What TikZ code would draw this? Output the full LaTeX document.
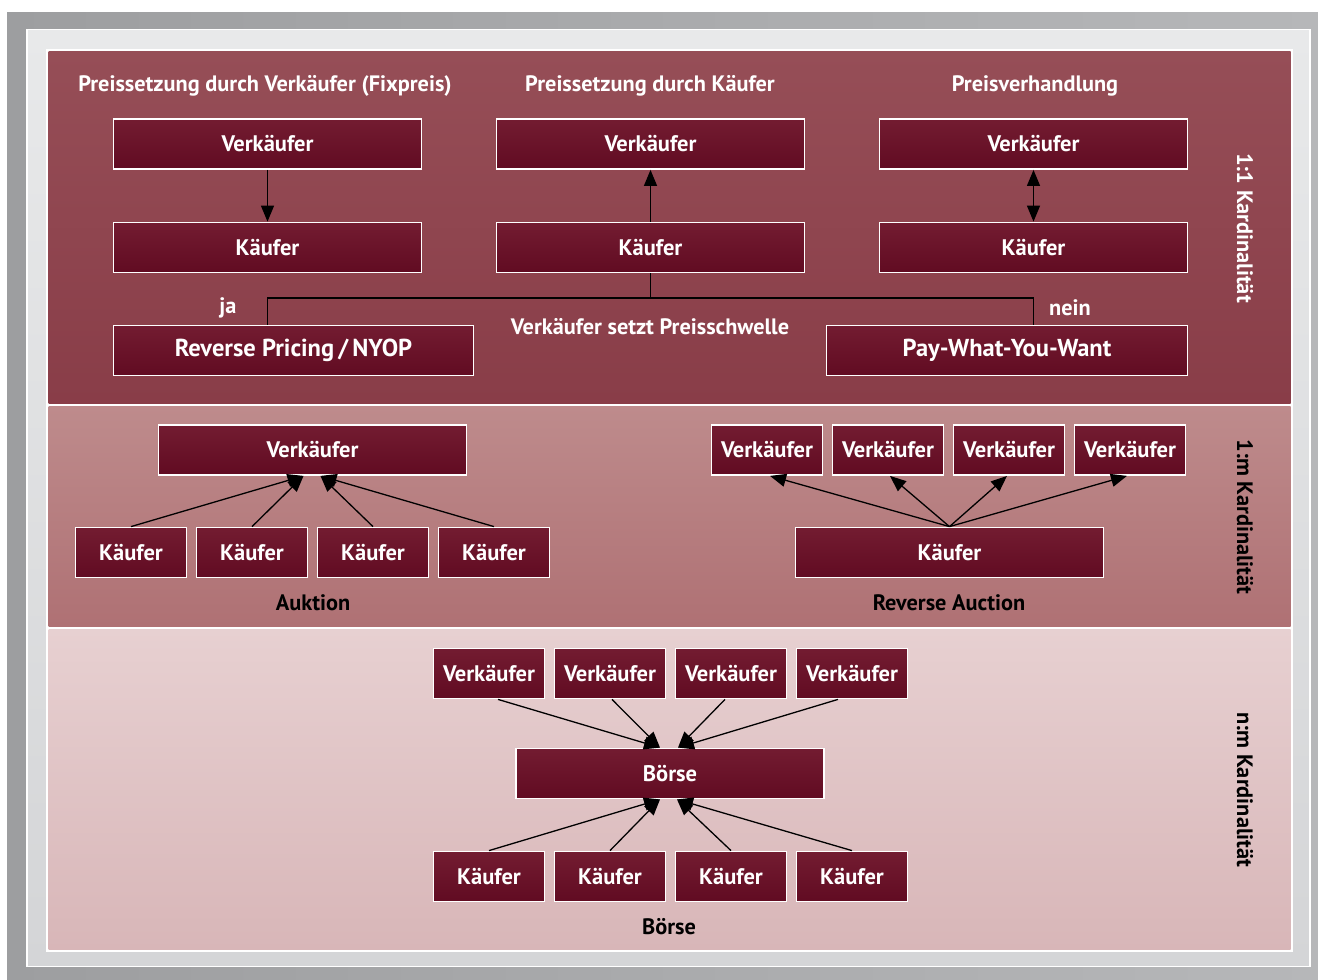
\documentclass[tikz,border=0pt]{standalone}
\usepackage{fontspec}
\setmainfont{PT Sans}
\usetikzlibrary{arrows.meta,calc}
\definecolor{grayL}{HTML}{9D9EA0}
\definecolor{grayR}{HTML}{B6B7B9}
\definecolor{frameT}{HTML}{E8E9EA}
\definecolor{frameB}{HTML}{D4D5D7}
\definecolor{p1T}{HTML}{964E57}
\definecolor{p1B}{HTML}{893D48}
\definecolor{p2T}{HTML}{BE8B8C}
\definecolor{p2B}{HTML}{AF7174}
\definecolor{p3T}{HTML}{E7D0D1}
\definecolor{p3B}{HTML}{D8B6B8}
\definecolor{boxT}{HTML}{731C31}
\definecolor{boxB}{HTML}{610B22}
\tikzset{
  box/.style={draw=white, line width=1.8pt, top color=boxT, bottom color=boxB,
    text=white, font=\bfseries\fontsize{22.5}{26}\selectfont, minimum height=50pt,
    inner sep=0pt, anchor=center},
  wide/.style={box, minimum width=308pt},
  small/.style={box, minimum width=111pt},
  bigbox/.style={box, font=\bfseries\fontsize{24.5}{28}\selectfont},
  wlabel/.style={text=white, font=\bfseries\fontsize{22.3}{26}\selectfont, inner sep=0pt},
  blabel/.style={text=black, font=\bfseries\fontsize{22.3}{26}\selectfont, inner sep=0pt},
  arr/.style={line width=1.3pt, -{Triangle[length=16pt,width=13pt]}},
  darr/.style={line width=1.3pt, {Triangle[length=16pt,width=13pt]}-{Triangle[length=16pt,width=13pt]}},
  conn/.style={line width=1.8pt}
}
\begin{document}
\begin{tikzpicture}[x=1pt,y=-1pt]
\useasboundingbox (0,0) rectangle (1318,980);
% background
\fill[white] (0,0) rectangle (1318,980);
\shade[left color=grayL, right color=grayR] (7,12) rectangle (1318,980);
\draw[white, line width=1.5pt, top color=frameT, bottom color=frameB] (27,29.5) rectangle (1310,966.5);
\fill[white] (46,49) rectangle (1293,952);
\shade[top color=p1T, bottom color=p1B] (48.5,51.5) rectangle (1290.5,403);
\shade[top color=p2T, bottom color=p2B] (48.5,406.5) rectangle (1290.5,626);
\shade[top color=p3T, bottom color=p3B] (48.5,629.5) rectangle (1290.5,949.5);

% ---------- panel 1 ----------
\node[wlabel] (t1) at (265,86) {Preissetzung durch Verkäufer (Fixpreis)};
\node[wlabel] (t2) at (650,86) {Preissetzung durch Käufer};
\node[wlabel] (t3) at (1035,86) {Preisverhandlung};
\node[wide] (v1) at (267.5,144) {Verkäufer};
\node[wide] (k1) at (267.5,247.5) {Käufer};
\node[wide] (v2) at (650.5,144) {Verkäufer};
\node[wide] (k2) at (650.5,247.5) {Käufer};
\node[wide] (v3) at (1033.5,144) {Verkäufer};
\node[wide] (k3) at (1033.5,247.5) {Käufer};
\draw[arr] (v1) -- (k1);
\draw[arr] (k2) -- (v2);
\draw[darr] (v3) -- (k3);
\node[bigbox, minimum width=360pt] (rp) at (293.5,350.5) {Reverse Pricing\,/\,NYOP};
\node[bigbox, minimum width=361pt] (pw) at (1007,350.5) {Pay-What-You-Want};
\coordinate (j) at (650.5,298);
\draw[conn] (k2.south) -- (j);
\draw[conn] (k1.south |- rp.north) |- (j) -| (k3.south |- pw.north);
\node[wlabel] (ja) at (228,308) {ja};
\node[wlabel] (nein) at (1070,308) {nein};
\node[wlabel] (ps) at (650,327) {Verkäufer setzt Preisschwelle};
\node[wlabel, rotate=-90] (c1) at (1245,228) {1:1 Kardinalität};

% ---------- panel 2 ----------
\node[wide] (av) at (312.5,450) {Verkäufer};
\node[small] (ak1) at (131,552.5) {Käufer};
\node[small] (ak2) at (252,552.5) {Käufer};
\node[small] (ak3) at (373,552.5) {Käufer};
\node[small] (ak4) at (494,552.5) {Käufer};
\draw[arr] (ak1.north) -- ([xshift=-9pt]av.south);
\draw[arr] (ak2.north) -- ([xshift=-9pt]av.south);
\draw[arr] (ak3.north) -- ([xshift=8pt]av.south);
\draw[arr] (ak4.north) -- ([xshift=8pt]av.south);
\node[blabel] (auk) at (313,603) {Auktion};

\node[small] (rv1) at (767,450) {Verkäufer};
\node[small] (rv2) at (888,450) {Verkäufer};
\node[small] (rv3) at (1009,450) {Verkäufer};
\node[small] (rv4) at (1130,450) {Verkäufer};
\node[wide] (rk) at (949.5,552.5) {Käufer};
\draw[arr] (rk.north) -- ([xshift=3pt]rv1.south);
\draw[arr] (rk.north) -- ([xshift=2pt]rv2.south);
\draw[arr] (rk.north) -- ([xshift=-2pt]rv3.south);
\draw[arr] (rk.north) -- ([xshift=-3pt]rv4.south);
\node[blabel] (ra) at (949,603) {Reverse Auction};
\node[blabel, rotate=-90] (c2) at (1245,517) {1:m Kardinalität};

% ---------- panel 3 ----------
\node[small] (bv1) at (489,673.5) {Verkäufer};
\node[small] (bv2) at (610,673.5) {Verkäufer};
\node[small] (bv3) at (731,673.5) {Verkäufer};
\node[small] (bv4) at (852,673.5) {Verkäufer};
\node[wide] (bo) at (670,773.5) {Börse};
\node[small] (bk1) at (489,876.5) {Käufer};
\node[small] (bk2) at (610,876.5) {Käufer};
\node[small] (bk3) at (731,876.5) {Käufer};
\node[small] (bk4) at (852,876.5) {Käufer};
\draw[arr] ([xshift=9pt]bv1.south) -- ([xshift=-10pt]bo.north);
\draw[arr] ([xshift=2pt]bv2.south) -- ([xshift=-10pt]bo.north);
\draw[arr] ([xshift=-6pt]bv3.south) -- ([xshift=8pt]bo.north);
\draw[arr] ([xshift=-14pt]bv4.south) -- ([xshift=8pt]bo.north);
\draw[arr] (bk1.north) -- ([xshift=-10pt]bo.south);
\draw[arr] (bk2.north) -- ([xshift=-10pt]bo.south);
\draw[arr] (bk3.north) -- ([xshift=7pt]bo.south);
\draw[arr] (bk4.north) -- ([xshift=7pt]bo.south);
\node[blabel] (bl) at (669,927) {Börse};
\node[blabel, rotate=-90] (c3) at (1245,790) {n:m Kardinalität};
\end{tikzpicture}
\end{document}
